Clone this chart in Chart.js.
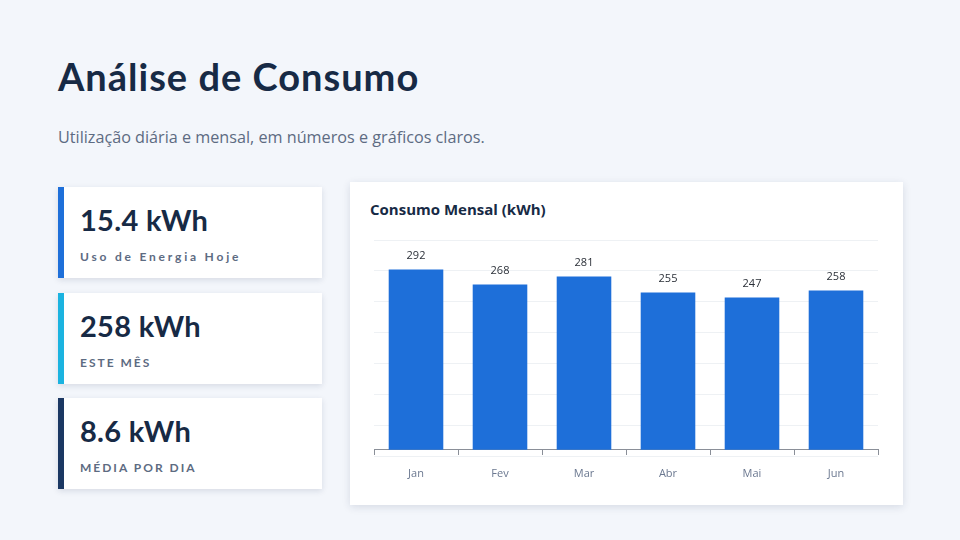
<!DOCTYPE html>
<html lang="pt">
<head>
    <meta charset="utf-8">
    <title>Análise de Consumo</title>
    <style>
        /* slide layout */
        html, body {
            margin: 0;
            padding: 0;
        }

        body {
            width: 960px;
            height: 540px;
            background-color: #f3f6fb;
            font-family: Lato, "Open Sans", sans-serif;
            position: relative;
            overflow: hidden;
        }

        h1 {
            position: absolute;
            left: 58px;
            top: 53px;
            margin: 0;
            font-size: 38px;
            font-weight: 700;
            letter-spacing: 1px;
            color: #172a45;
        }

        .subtitle {
            position: absolute;
            left: 58px;
            top: 126px;
            margin: 0;
            font-family: "Open Sans", sans-serif;
            font-size: 16.2px;
            color: #5d6b82;
        }

        .card {
            position: absolute;
            left: 58px;
            width: 264px;
            height: 91px;
            background: #fff;
            box-shadow: 0 2px 6px rgba(20, 40, 80, 0.13);
            box-sizing: border-box;
            border-left: 6px solid #1e6fd9;
        }

        .card .value {
            position: absolute;
            left: 16px;
            top: 15px;
            font-size: 29px;
            font-weight: 700;
            letter-spacing: 0.3px;
            color: #172a45;
        }

        .card .label {
            position: absolute;
            left: 16px;
            top: 62px;
            font-size: 12px;
            font-weight: 700;
            letter-spacing: 2px;
            color: #5d6b82;
        }

        .card .label.lower {
            letter-spacing: 2.8px;
        }

        .panel {
            position: absolute;
            left: 350px;
            top: 182px;
            width: 553px;
            height: 323px;
            background: #fff;
            box-shadow: 0 2px 8px rgba(20, 40, 80, 0.13);
        }

        .panel h3 {
            position: absolute;
            left: 20px;
            top: 17px;
            margin: 0;
            font-family: "Open Sans", sans-serif;
            font-size: 15px;
            font-weight: 700;
            color: #172a45;
        }

        .chart-box {
            position: absolute;
            left: 0;
            top: 48px;
            width: 553px;
            height: 270px;
        }
    </style>
    <script src="https://cdn.jsdelivr.net/npm/chart.js"></script>
</head>
<body>

<h1>Análise de Consumo</h1>
<p class="subtitle">Utilização diária e mensal, em números e gráficos claros.</p>

<div class="card" style="top: 187px; border-left-color: #1e6fd9;">
    <div class="value">15.4 kWh</div>
    <div class="label lower">Uso de Energia Hoje</div>
</div>
<div class="card" style="top: 293px; border-left-color: #1bb3e0;">
    <div class="value">258 kWh</div>
    <div class="label">ESTE MÊS</div>
</div>
<div class="card" style="top: 398px; border-left-color: #1b3863;">
    <div class="value">8.6 kWh</div>
    <div class="label">MÉDIA POR DIA</div>
</div>

<div class="panel">
    <h3>Consumo Mensal (kWh)</h3>
    <div class="chart-box">
        <canvas id="chartConsumo"></canvas>
    </div>
</div>

<script>
    // monthly data
    const months = ['Jan', 'Fev', 'Mar', 'Abr', 'Mai', 'Jun'];
    const consumo = [292, 268, 281, 255, 247, 258];

    // draws the value above each bar
    const valueLabels = {
        id: 'valueLabels',
        afterDatasetsDraw(chart) {
            const ctx = chart.ctx;
            const meta = chart.getDatasetMeta(0);
            ctx.save();
            ctx.font = '11px "Open Sans", sans-serif';
            ctx.fillStyle = '#2b3038';
            ctx.textAlign = 'center';
            ctx.textBaseline = 'bottom';
            meta.data.forEach((bar, i) => {
                ctx.fillText(chart.data.datasets[0].data[i], bar.x, bar.y - 8);
            });
            ctx.restore();
        }
    };

    const ctx = document.getElementById('chartConsumo').getContext('2d');
    new Chart(ctx, {
        type: 'bar',
        data: {
            labels: months,
            datasets: [{
                label: 'Consumo',
                data: consumo,
                backgroundColor: '#1e6fd9',
                barPercentage: 0.65,
                categoryPercentage: 1.0
            }]
        },
        options: {
            responsive: true,
            maintainAspectRatio: false,
            animation: false,
            layout: {
                padding: {left: 24, right: 25, top: 10, bottom: 44}
            },
            plugins: {
                legend: {display: false},
                tooltip: {enabled: false}
            },
            scales: {
                x: {
                    position: {y: 0}, // axis line sits on zero
                    grid: {
                        drawOnChartArea: false,
                        tickLength: 5,
                        color: '#8a8f98'
                    },
                    border: {color: '#8a8f98'},
                    ticks: {
                        color: '#6b7890',
                        padding: 12,
                        font: {family: '"Open Sans", sans-serif', size: 11}
                    }
                },
                y: {
                    min: -10,
                    max: 340,
                    ticks: {display: false, stepSize: 50},
                    grid: {color: '#eef1f4', drawTicks: false},
                    border: {display: false}
                }
            }
        },
        plugins: [valueLabels]
    });
</script>

</body>
</html>
